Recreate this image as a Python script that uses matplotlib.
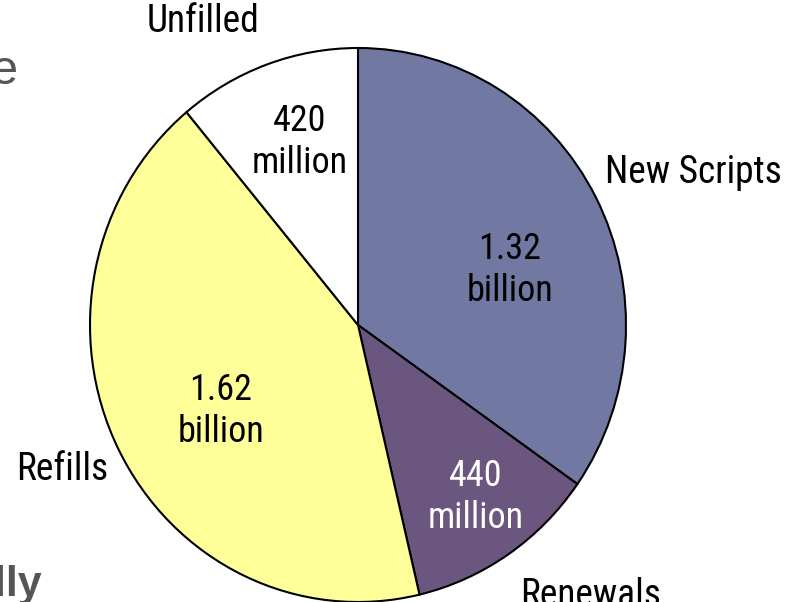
import matplotlib.pyplot as plt
from matplotlib import font_manager

names = ["New Scripts", "Renewals", "Refills", "Unfilled"]
values = [1.32, 0.44, 1.62, 0.42]
inner_labels = ["1.32\nbillion", "440\nmillion", "1.62\nbillion", "420\nmillion"]
colors = ["#7179A3", "#6B5680", "#FFFF99", "#FFFFFF"]
inner_colors = ["black", "white", "black", "black"]

avail = {f.name for f in font_manager.fontManager.ttflist}
narrow = None
for cand in ["Liberation Sans Narrow", "Roboto Condensed", "Open Sans Condensed"]:
    if cand in avail:
        narrow = cand
        break
if narrow:
    fam, big, small = narrow, 27, 26
else:
    fam, big, small = "Liberation Sans", 24, 22
plt.rcParams["font.family"] = [fam, "DejaVu Sans"]

fig = plt.figure(figsize=(7.9, 6.02), dpi=100)
ax = fig.add_axes([0, 0, 1, 1])
ax.pie(values, colors=colors, startangle=90, counterclock=False,
       wedgeprops=dict(edgecolor="black", linewidth=1.5))
ax.set_aspect("auto")
# pixel box of the slide crop, centre at (358, 325), radii 268 x 277
ax.set_xlim(-358 / 268, (790 - 358) / 268)
ax.set_ylim((325 - 602) / 277, 325 / 277)
ax.axis("off")

inner_pos = [(0.567, 0.2), (0.44, -0.62), (-0.511, -0.31), (-0.216, 0.662)]
for (x, y), t, c in zip(inner_pos, inner_labels, inner_colors):
    ax.text(x, y, t, ha="center", va="center", fontsize=small, color=c,
            linespacing=1.22)

ax.text(1.58, 0.552, names[0], ha="right", va="center", fontsize=big)
ax.text(0.866, -0.975, names[1], ha="center", va="center", fontsize=big)
ax.text(-1.104, -0.523, names[2], ha="center", va="center", fontsize=big)
ax.text(-0.578, 1.095, names[3], ha="center", va="center", fontsize=big)

# bits of slide text cut off by the crop
fig.text(-0.012, 0.882, "e", fontsize=35, color="#555555", ha="left", va="center",
         family="Liberation Sans")
fig.text(-0.008, 0.028, "lly", fontsize=31, color="#555555", ha="left", va="center",
         fontweight="bold", family="Liberation Sans")

fig.savefig("out.png", dpi=100)
